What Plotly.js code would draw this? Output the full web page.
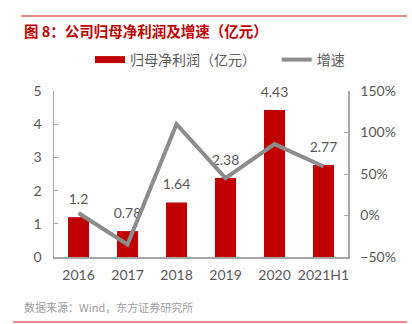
<!DOCTYPE html>
<html><head><meta charset="utf-8">
<script src="https://cdn.plot.ly/plotly-3.0.1.min.js"></script>
<style>html,body{margin:0;padding:0;background:#fff}#c{width:412px;height:324px}</style>
</head><body><div id="c"></div>
<script>
const categories = ['2016','2017','2018','2019','2020','2021H1'];
const profit = [1.2, 0.78, 1.64, 2.38, 4.43, 2.77];
const growth = [0.03, -0.35, 1.10, 0.45, 0.86, 0.59];
const profitName = '归母净利润（亿元）';
const growthName = '增速';
const titleText = '图 8：公司归母净利润及增速（亿元）';
const sourceText = '数据来源：Wind，东方证券研究所';

const FONT = 'Lato, "Noto Sans CJK SC", sans-serif';
const CJK = '"Noto Sans CJK SC", sans-serif';
const RED = '#c00000', GREY = '#8c8c8c', TXT = '#595959', AX = '#a6a6a6';
const PAD = '\u00a0\u00a0\u00a0\u00a0\u00a0';

const traces = [
  {type:'bar', x:categories, y:profit, marker:{color:RED}, width:0.43,
   showlegend:false, hoverinfo:'skip'},
  {type:'scatter', mode:'lines', x:[categories[0]], y:[null], name:profitName + PAD,
   line:{color:RED,width:7}, showlegend:true, hoverinfo:'skip'},
  {type:'scatter', mode:'lines', x:categories, y:growth, yaxis:'y2', name:growthName,
   line:{color:GREY,width:4}, hoverinfo:'skip'},
  {type:'scatter', mode:'markers+text', x:categories, y:profit, text:profit.map(String),
   marker:{size:14, opacity:0}, textposition:'top center', cliponaxis:false, showlegend:false, hoverinfo:'skip',
   textfont:{color:TXT,size:14,family:FONT}}
];

const layout = {
  width:412, height:324,
  margin:{l:54, r:64, t:91, b:67},
  paper_bgcolor:'#fff', plot_bgcolor:'#fff',
  font:{family:FONT, color:TXT, size:13},
  showlegend:true,
  legend:{orientation:'h', x:(90-54)/294, y:(257-60)/166, xanchor:'left', yanchor:'middle',
    font:{size:14,color:TXT,family:CJK}, bgcolor:'rgba(0,0,0,0)', itemwidth:30},
  xaxis:{type:'category', showline:true, linecolor:AX, linewidth:1.5, ticks:'', showgrid:false,
    tickfont:{size:14,color:TXT,family:FONT}, zeroline:false, ticklabelstandoff:5},
  yaxis:{range:[0,5], dtick:1, showline:true, linecolor:AX, linewidth:1.5, ticks:'inside', ticklen:4,
    tickcolor:AX, showgrid:false, zeroline:false, tickfont:{size:14,color:TXT,family:FONT}, ticklabelstandoff:8},
  yaxis2:{range:[-0.5,1.5], dtick:0.5, tickformat:'.0%', overlaying:'y', side:'right', showline:true,
    linecolor:AX, linewidth:1.5, ticks:'inside', ticklen:4, tickcolor:AX, showgrid:false, zeroline:false,
    tickfont:{size:14,color:TXT,family:FONT}, ticklabelstandoff:8},
  shapes:[
    {type:'line', xref:'paper', yref:'paper', x0:(21-54)/294, x1:(407-54)/294, y0:(257-16)/166, y1:(257-16)/166,
     line:{color:'#e06666', width:1.5}},
    {type:'line', xref:'paper', yref:'paper', x0:(13-54)/294, x1:(407-54)/294, y0:(257-322)/166, y1:(257-322)/166,
     line:{color:'#e06666', width:1.5}}
  ],
  annotations:[
    {text:'<b>'+titleText+'</b>', xref:'paper', yref:'paper', x:(22-54)/294, y:(257-30)/166,
     xanchor:'left', yanchor:'middle', showarrow:false, font:{size:14.5,color:RED,family:CJK}},
    {text:sourceText, xref:'paper', yref:'paper', x:(22-54)/294, y:(257-307)/166,
     xanchor:'left', yanchor:'middle', showarrow:false, font:{size:11,color:'#a0a0a0',family:CJK}}
  ]
};
Plotly.newPlot('c', traces, layout, {displayModeBar:false, staticPlot:true});
</script></body></html>
